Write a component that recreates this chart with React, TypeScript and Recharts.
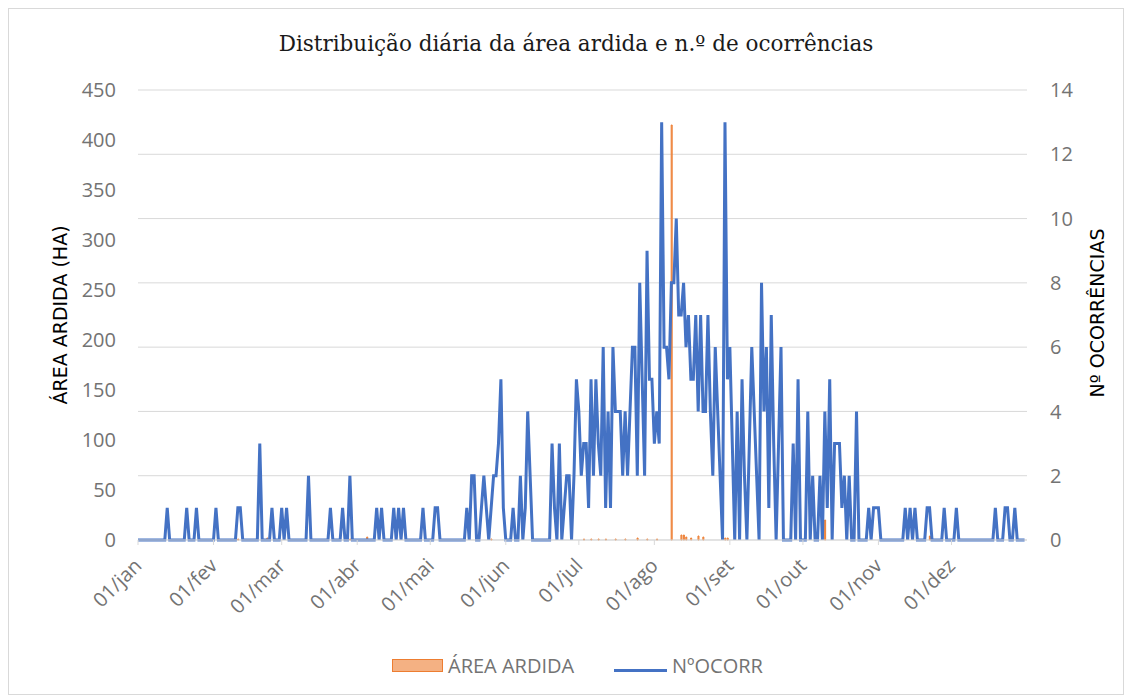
import { ComposedChart, Bar, Line, XAxis, YAxis, CartesianGrid } from 'recharts';

const meses = ['jan', 'fev', 'mar', 'abr', 'mai', 'jun', 'jul', 'ago', 'set', 'out', 'nov', 'dez'];

// nº de ocorrências por dia, um array por mês
const ocorrJan = [0,0,0,0,0,0,0,0,0,0,0,0,1,0,0,0,0,0,0,0,1,0,0,0,1,0,0,0,0,0,0];
const ocorrFev = [0,1,0,0,0,0,0,0,0,0,1,1,0,0,0,0,0,0,0,3,0,0,0,0,1,0,0,0];
const ocorrMar = [1,0,1,0,0,0,0,0,0,0,0,2,0,0,0,0,0,0,0,0,1,0,0,0,0,1,0,0,2,0,0];
const ocorrAbr = [0,0,0,0,0,0,0,0,1,0,1,0,0,0,0,1,0,1,0,1,0,0,0,0,0,0,0,1,0,0];
const ocorrMai = [0,0,1,1,0,0,0,0,0,0,0,0,0,0,0,1,0,2,2,0,0,1,2,1,0,1,2,2,3,5,1];
const ocorrJun = [0,0,0,1,0,0,2,0,1,4,2,0,0,0,0,0,0,0,0,3,1,0,3,0,1,2,2,0,2,5];
const ocorrJul = [4,2,3,3,1,5,2,5,3,2,6,1,4,1,6,4,4,4,2,4,2,4,6,6,2,8,5,2,9,5,5];
const ocorrAgo = [3,4,3,13,6,6,5,8,8,10,7,7,8,6,7,5,5,7,4,7,4,4,7,4,2,6,4,2,0,13,5];
const ocorrSet = [6,3,0,4,0,5,2,0,3,6,4,2,0,8,4,6,1,7,3,0,3,6,0,0,0,0,3,0,5,0];
const ocorrOut = [0,0,4,0,2,0,0,2,0,4,1,5,0,3,3,3,1,2,0,2,0,0,4,0,0,0,0,1,0,1,1];
const ocorrNov = [1,0,0,0,0,0,0,0,0,0,0,1,0,1,0,1,0,0,0,0,1,1,0,0,0,0,0,1,0,0];
const ocorrDez = [0,0,1,0,0,0,0,0,0,0,0,0,0,0,0,0,0,0,1,0,0,0,1,1,0,0,1,0,0,0,0];

// área ardida (ha) nos dias em que houve área
const areaDias = ['11/fev', '23/fev', '29/mar', '05/abr', '26/mai', '03/jul', '06/jul', '09/jul', '12/jul', '16/jul', '20/jul', '25/jul', '29/jul', '02/ago', '08/ago', '12/ago', '13/ago', '14/ago', '16/ago', '19/ago', '21/ago', '30/ago', '31/ago', '10/out', '22/nov'];
const areaHa = [1, 2, 1, 3, 1, 1, 1, 1, 1, 1, 1, 2, 1, 1, 415, 5, 5, 3, 2, 4, 3, 2, 2, 20, 4];

const areaTicks = [0, 50, 100, 150, 200, 250, 300, 350, 400, 450];
const ocorrTicks = [0, 2, 4, 6, 8, 10, 12, 14];

const ocorrPorMes = [ocorrJan, ocorrFev, ocorrMar, ocorrAbr, ocorrMai, ocorrJun, ocorrJul, ocorrAgo, ocorrSet, ocorrOut, ocorrNov, ocorrDez];
const areaPorDia = new Map(areaDias.map((d, i) => [d, areaHa[i]]));

const inicioMes: number[] = [];
const rows: { dia: number; rotulo: string; ocorr: number; area: number }[] = [];
let n = 0;
ocorrPorMes.forEach((vals, m) => {
  inicioMes.push(n);
  vals.forEach((v, i) => {
    const rotulo = `${String(i + 1).padStart(2, '0')}/${meses[m]}`;
    rows.push({ dia: n, rotulo, ocorr: v, area: areaPorDia.get(rotulo) ?? 0 });
    n++;
  });
});

const W = 1116;
const H = 687;
const GREY = '#737373';

function MonthTick({ x, y, payload }: any) {
  const idx = inicioMes.indexOf(payload.value);
  const ax = x + 5;
  const ay = y + 22;
  return (
    <text x={ax} y={ay} textAnchor="end" fill={GREY} fontSize={20} transform={`rotate(-45, ${ax}, ${ay})`}>
      {`01/${meses[idx]}`}
    </text>
  );
}

export default function App() {
  return (
    <div style={{ position: 'relative', width: W, height: H, fontFamily: '"Open Sans", sans-serif' }}>
      <ComposedChart width={W} height={H} data={rows} margin={{ top: 82, right: 17, bottom: 95, left: 50 }}>
        <CartesianGrid yAxisId="right" vertical={false} stroke="#D9D9D9" />
        <XAxis
          dataKey="dia"
          type="number"
          domain={[0, 365]}
          ticks={inicioMes}
          interval={0}
          tick={<MonthTick />}
          tickSize={5}
          tickMargin={0}
          height={60}
          axisLine={{ stroke: '#D9D9D9' }}
          tickLine={{ stroke: '#D9D9D9' }}
        />
        <YAxis
          yAxisId="left"
          orientation="left"
          domain={[0, 450]}
          ticks={areaTicks}
          width={80}
          axisLine={false}
          tickLine={false}
          tickSize={0}
          tickMargin={22}
          tick={{ fill: GREY, fontSize: 20 }}
        />
        <YAxis
          yAxisId="right"
          orientation="right"
          domain={[0, 14]}
          ticks={ocorrTicks}
          width={80}
          axisLine={false}
          tickLine={false}
          tickSize={0}
          tickMargin={23}
          tick={{ fill: GREY, fontSize: 20, textAnchor: 'start' }}
        />
        <Bar yAxisId="left" dataKey="area" barSize={1} fill="#F4B183" stroke="#ED7D31" strokeWidth={1} isAnimationActive={false} />
        <Line yAxisId="right" dataKey="ocorr" type="linear" stroke="#4472C4" strokeWidth={3} dot={false} isAnimationActive={false} />
      </ComposedChart>

      <div style={{ position: 'absolute', inset: 0, border: '1px solid #D9D9D9', pointerEvents: 'none' }} />

      <div style={{ position: 'absolute', left: 168, width: 800, top: 22, textAlign: 'center', fontFamily: '"DejaVu Serif", serif', fontSize: 21.5, color: '#1a1a1a', lineHeight: '28px' }}>
        Distribuição diária da área ardida e n.º de ocorrências
      </div>

      <div style={{ position: 'absolute', left: 52, top: 307, transform: 'translate(-50%, -50%) rotate(-90deg)', whiteSpace: 'nowrap', fontFamily: '"DejaVu Sans", sans-serif', fontSize: 19, color: '#000' }}>
        ÁREA ARDIDA (HA)
      </div>
      <div style={{ position: 'absolute', left: 1089, top: 305, transform: 'translate(-50%, -50%) rotate(-90deg)', whiteSpace: 'nowrap', fontFamily: '"DejaVu Sans", sans-serif', fontSize: 19, color: '#000' }}>
        Nº OCORRÊNCIAS
      </div>

      <div style={{ position: 'absolute', left: 384, top: 651, width: 49, height: 11, background: '#F4B183', border: '1.5px solid #ED7D31' }} />
      <div style={{ position: 'absolute', left: 440, top: 644, fontSize: 20, color: GREY, lineHeight: '28px' }}>ÁREA ARDIDA</div>
      <div style={{ position: 'absolute', left: 606, top: 661, width: 53, height: 3, background: '#4472C4' }} />
      <div style={{ position: 'absolute', left: 664, top: 644, fontSize: 20, color: GREY, lineHeight: '28px' }}>NºOCORR</div>
    </div>
  );
}
